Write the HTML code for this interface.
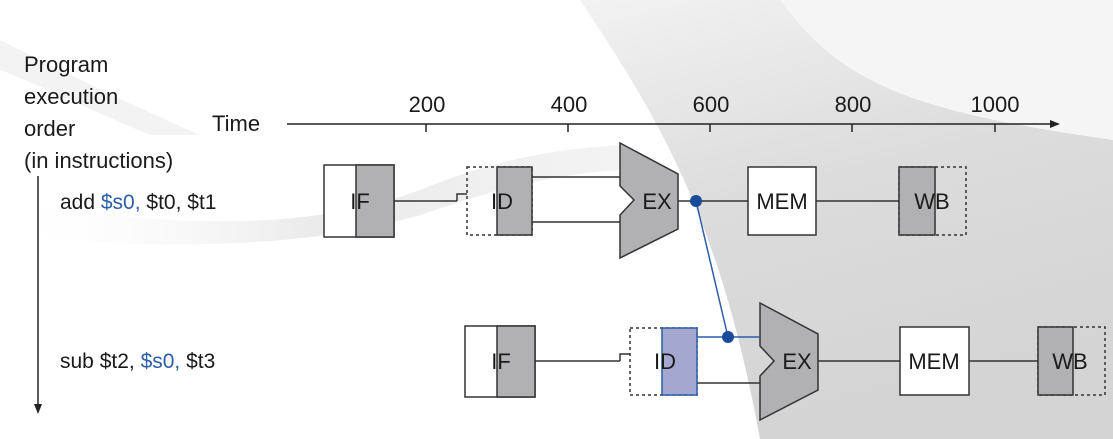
<!DOCTYPE html>
<html><head><meta charset="utf-8"><style>
html,body{margin:0;padding:0;background:#fff}
svg{display:block}
text{font-family:"Liberation Sans",sans-serif;fill:#1a1a1a}
</style></head><body>
<svg width="1113" height="439" viewBox="0 0 1113 439" xmlns="http://www.w3.org/2000/svg">
<defs>
<linearGradient id="g1" x1="0" y1="0" x2="0.3" y2="1">
<stop offset="0" stop-color="#f2f2f2"/><stop offset="0.5" stop-color="#dcdcdc"/><stop offset="1" stop-color="#d4d4d4"/>
</linearGradient>
<linearGradient id="g2" x1="0" y1="0" x2="1" y2="0">
<stop offset="0" stop-color="#fff" stop-opacity="0"/><stop offset="0.5" stop-color="#e2e2e2"/><stop offset="1" stop-color="#eee"/>
</linearGradient>
</defs>
<rect width="1113" height="439" fill="#fff"/>
<path d="M580,0 C660,120 720,220 760,439 L1113,439 L1113,0 Z" fill="url(#g1)"/>
<path d="M780,0 C840,80 900,110 1113,140 L1113,0 Z" fill="#f5f5f5"/>
<path d="M0,200 C150,225 300,235 420,190 C480,165 540,150 620,145 L620,170 C540,175 480,195 420,215 C300,250 150,250 0,235 Z" fill="url(#g2)" opacity="0.7"/>
<path d="M0,40 C60,70 120,100 200,135 L150,135 C90,110 40,85 0,70 Z" fill="#f3f3f3"/>

<text x="24" y="72" font-size="22">Program</text>
<text x="24" y="104" font-size="22">execution</text>
<text x="24" y="136" font-size="22">order</text>
<text x="24" y="168" font-size="22">(in instructions)</text>
<line x1="38" y1="176" x2="38" y2="408" stroke="#222" stroke-width="1.5"/>
<path d="M34,404 L38,414 L42,404 Z" fill="#222"/>

<text x="212" y="131" font-size="22">Time</text>
<line x1="287" y1="124" x2="1052" y2="124" stroke="#222" stroke-width="1.5"/>
<path d="M1050,120 L1060,124 L1050,128 Z" fill="#222"/>
<g stroke="#222" stroke-width="1.5">
<line x1="426" y1="124" x2="426" y2="132"/><line x1="568" y1="124" x2="568" y2="132"/>
<line x1="710" y1="124" x2="710" y2="132"/><line x1="852" y1="124" x2="852" y2="132"/>
<line x1="995" y1="124" x2="995" y2="132"/>
</g>
<g font-size="22" text-anchor="middle">
<text x="427" y="112">200</text><text x="569" y="112">400</text><text x="711" y="112">600</text>
<text x="853" y="112">800</text><text x="995" y="112">1000</text>
</g>

<text x="60" y="209" font-size="21">add <tspan fill="#2a5ea8">$s0,</tspan> $t0, $t1</text>
<text x="60" y="368" font-size="21">sub $t2, <tspan fill="#2a5ea8">$s0,</tspan> $t3</text>

<g stroke="#333" stroke-width="1.5">
<rect x="324" y="165" width="70" height="72" fill="#fff"/>
<rect x="356" y="165" width="38" height="72" fill="#b1b1b4"/>
<line x1="394" y1="201" x2="457" y2="201"/>
<path d="M457,201 L457,194 L467,194" fill="none"/>
<rect x="467" y="167" width="65" height="68" fill="none" stroke-dasharray="3,3"/>
<rect x="497" y="167" width="35" height="68" fill="#b1b1b4"/>
<line x1="532" y1="177" x2="620" y2="177"/>
<line x1="532" y1="222" x2="620" y2="222"/>
<path d="M620,143 L678,174 L678,229 L620,258 L620,215 L634,200 L620,186 Z" fill="#b1b1b4"/>
<line x1="678" y1="201" x2="748" y2="201"/>
<rect x="748" y="167" width="68" height="68" fill="#fff"/>
<line x1="816" y1="201" x2="899" y2="201"/>
<rect x="899" y="167" width="67" height="68" fill="none" stroke-dasharray="3,3"/>
<rect x="899" y="167" width="36" height="68" fill="#b1b1b4"/>
</g>
<g font-size="22" text-anchor="middle">
<text x="360" y="209">IF</text><text x="502" y="209">ID</text><text x="657" y="209">EX</text>
<text x="782" y="209">MEM</text><text x="932" y="209">WB</text>
</g>

<g stroke="#333" stroke-width="1.5">
<rect x="465" y="326" width="70" height="71" fill="#fff"/>
<rect x="497" y="326" width="38" height="71" fill="#b1b1b4"/>
<line x1="535" y1="361" x2="620" y2="361"/>
<path d="M620,361 L620,354 L630,354" fill="none"/>
<rect x="630" y="328" width="67" height="67" fill="none" stroke-dasharray="3,3"/>
<line x1="697" y1="383" x2="760" y2="383"/>
<path d="M760,303 L818,334 L818,390 L760,420 L760,376 L774,361 L760,346 Z" fill="#b1b1b4"/>
<line x1="818" y1="361" x2="900" y2="361"/>
<rect x="900" y="327" width="69" height="68" fill="#fff"/>
<line x1="969" y1="361" x2="1038" y2="361"/>
<rect x="1038" y="327" width="67" height="68" fill="none" stroke-dasharray="3,3"/>
<rect x="1038" y="327" width="35" height="68" fill="#b1b1b4"/>
</g>
<rect x="662" y="328" width="35" height="67" fill="#a4a8d0" stroke="#2a5ea8" stroke-width="1.5"/>
<line x1="697" y1="337" x2="760" y2="337" stroke="#2a5ea8" stroke-width="1.5"/>
<line x1="696" y1="201" x2="728" y2="337" stroke="#2a5ea8" stroke-width="1.5"/>
<circle cx="696" cy="201" r="6" fill="#1a4b9a"/>
<circle cx="728" cy="337" r="6" fill="#1a4b9a"/>
<g font-size="22" text-anchor="middle">
<text x="501" y="369">IF</text><text x="665" y="369">ID</text><text x="797" y="369">EX</text>
<text x="934" y="369">MEM</text><text x="1070" y="369">WB</text>
</g>
</svg>
</body></html>
